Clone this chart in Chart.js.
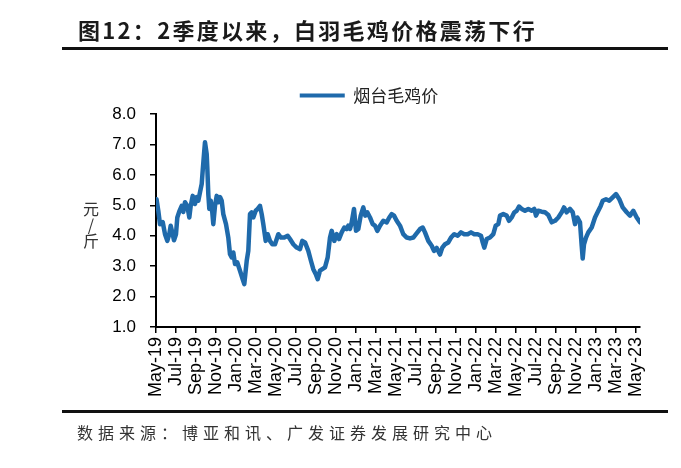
<!DOCTYPE html>
<html><head><meta charset="utf-8">
<script src="https://cdn.jsdelivr.net/npm/chart.js@4"></script>
<style>
html,body{margin:0;padding:0;background:#fff;}
#wrap{position:relative;width:681px;height:468px;overflow:hidden;background:#fff;}
#cw{position:absolute;left:0;top:0;width:681px;height:468px;}
.title{position:absolute;left:78px;top:13px;font-family:"Noto Sans CJK SC";font-weight:700;font-size:22px;letter-spacing:2.3px;color:#1a1a1a;line-height:32px;white-space:nowrap;}
.rule{position:absolute;left:62px;width:606px;height:3px;background:#111;}
.src{position:absolute;left:77px;top:420px;font-family:"Noto Sans CJK SC";font-size:16px;letter-spacing:5px;color:#333;line-height:24px;white-space:nowrap;}
.unit{position:absolute;left:82px;top:200px;width:18px;text-align:center;font-family:"Noto Sans CJK SC";font-size:16px;color:#333;line-height:16px;}
</style>
</head><body>
<div id="wrap">
  <div id="cw"><canvas id="c"></canvas></div>
  <div class="title">图12：2季度以来，白羽毛鸡价格震荡下行</div>
  <div class="rule" style="top:47px"></div>
  <div class="unit">元<br>/<br>斤</div>
  <div class="rule" style="top:410px"></div>
  <div class="src">数据来源：博亚和讯、广发证券发展研究中心</div>
</div>
<script>
// month offsets from May-2019
const months = [0.05,0.23,0.4,0.67,0.9,1.13,1.33,1.47,1.67,1.8,2.0,2.13,2.33,2.57,2.73,2.9,3.13,3.33,3.47,3.67,3.9,4.07,4.23,4.4,4.57,4.67,4.8,4.9,5.07,5.13,5.23,5.33,5.47,5.6,5.73,5.9,6.07,6.23,6.4,6.57,6.73,7.0,7.23,7.4,7.57,7.73,7.9,8.13,8.4,8.67,8.83,9.07,9.23,9.4,9.57,9.73,9.97,10.17,10.4,10.57,10.73,10.97,11.17,11.4,11.63,11.9,12.23,12.5,12.83,13.17,13.4,13.73,14.07,14.4,14.63,14.9,15.23,15.5,15.73,15.97,16.17,16.4,16.63,16.9,17.17,17.4,17.57,17.83,18.07,18.3,18.57,18.83,19.07,19.23,19.4,19.57,19.8,20.0,20.23,20.47,20.73,20.93,21.13,21.4,21.67,21.9,22.13,22.4,22.73,23.07,23.33,23.57,23.8,24.07,24.4,24.73,25.07,25.4,25.73,26.0,26.4,26.67,26.9,27.23,27.57,27.8,28.07,28.4,28.63,28.9,29.23,29.5,29.83,30.17,30.5,30.83,31.17,31.5,31.83,32.17,32.5,32.67,32.83,33.07,33.4,33.73,33.97,34.23,34.4,34.73,35.07,35.3,35.57,35.83,36.07,36.3,36.57,36.9,37.23,37.57,37.83,38.0,38.23,38.57,38.9,39.23,39.57,39.9,40.23,40.57,40.8,41.07,41.4,41.67,41.9,42.13,42.4,42.57,42.67,42.8,43.0,43.23,43.57,43.9,44.23,44.47,44.67,45.0,45.33,45.67,46.0,46.33,46.67,47.07,47.4,47.73,48.07,48.4];
const prices = [5.20,4.82,4.38,4.45,4.05,3.83,4.05,4.33,4.05,3.85,4.05,4.60,4.80,4.98,4.78,5.10,4.98,4.60,4.98,5.31,5.04,5.27,5.15,5.43,5.70,6.14,6.68,7.07,6.68,6.25,5.37,4.88,5.15,4.88,4.38,4.98,5.31,5.10,5.27,5.15,4.71,4.38,3.94,3.39,3.29,3.45,3.07,3.12,2.85,2.57,2.41,3.17,3.50,4.71,4.77,4.60,4.82,4.88,4.98,4.71,4.38,3.83,4.05,3.83,3.72,3.72,4.05,3.94,3.94,4.00,3.89,3.72,3.61,3.56,3.83,3.78,3.50,3.17,2.90,2.74,2.57,2.85,2.90,2.96,3.29,3.94,4.16,3.83,4.05,3.89,4.11,4.27,4.22,4.33,4.22,4.44,4.88,4.16,4.22,4.66,4.93,4.66,4.77,4.60,4.38,4.33,4.16,4.33,4.49,4.44,4.60,4.71,4.66,4.49,4.33,4.05,3.94,3.91,3.94,4.05,4.22,4.27,4.11,3.83,3.67,3.50,3.60,3.38,3.61,3.72,3.78,3.94,4.05,4.00,4.11,4.05,4.05,4.11,4.05,4.05,4.00,3.78,3.61,3.89,3.94,4.05,4.33,4.38,4.66,4.71,4.66,4.49,4.60,4.77,4.82,4.96,4.88,4.82,4.88,4.82,4.88,4.66,4.82,4.79,4.77,4.68,4.44,4.49,4.60,4.77,4.93,4.77,4.88,4.77,4.38,4.60,4.44,3.67,3.25,3.72,3.94,4.11,4.27,4.60,4.82,4.98,5.15,5.20,5.15,5.26,5.37,5.20,4.93,4.77,4.66,4.82,4.60,4.44];
const tickLabels = ['May-19','Jul-19','Sep-19','Nov-19','Jan-20','Mar-20','May-20','Jul-20','Sep-20','Nov-20','Jan-21','Mar-21','May-21','Jul-21','Sep-21','Nov-21','Jan-22','Mar-22','May-22','Jul-22','Sep-22','Nov-22','Jan-23','Mar-23','May-23'];
const seriesName = '烟台毛鸡价';
const yTicks = [1,2,3,4,5,6,7,8];

const lineColor = '#1f6aab';
const points = months.map((m, i) => ({x: m, y: prices[i]}));

new Chart(document.getElementById('c'), {
  type: 'line',
  data: { datasets: [{
    label: seriesName, data: points,
    borderColor: lineColor, backgroundColor: lineColor,
    borderWidth: 4.5, pointRadius: 0, tension: 0,
    borderJoinStyle: 'round', borderCapStyle: 'round'
  }]},
  options: {
    responsive: true, maintainAspectRatio: false, animation: false,
    layout: { padding: { left: 98, right: 41, top: 79, bottom: 0 } },
    plugins: {
      tooltip: { enabled: false },
      legend: {
        display: true, position: 'top',
        labels: {
          boxWidth: 45, boxHeight: 4, padding: 8, color: '#222',
          font: { family: '"Noto Sans CJK SC"', size: 17 },
          generateLabels: (chart) => Chart.defaults.plugins.legend.labels.generateLabels(chart).map(l => Object.assign(l, {lineWidth: 0}))
        }
      }
    },
    scales: {
      x: {
        type: 'linear', min: 0, max: 48.4,
        afterFit: (s) => { s.height = 141; },
        ticks: {
          stepSize: 2, includeBounds: false, autoSkip: false,
          minRotation: 90, maxRotation: 90, padding: 4, color: '#000',
          font: { family: '"Liberation Sans", Arial', size: 18 },
          callback: (v) => tickLabels[Math.round(v / 2)]
        },
        grid: { display: true, drawOnChartArea: false, drawTicks: true, tickLength: 6, color: '#000', lineWidth: 1.5 },
        border: { display: true, color: '#000', width: 2 }
      },
      y: {
        type: 'linear', min: 1, max: 8,
        afterFit: (s) => { s.width = 58; },
        afterBuildTicks: (s) => { s.ticks = yTicks.map(v => ({value: v})); },
        ticks: {
          stepSize: 1, padding: 14, color: '#000',
          font: { family: '"Liberation Sans", Arial', size: 17 },
          callback: (v) => Number(v).toFixed(1)
        },
        grid: { display: true, drawOnChartArea: false, drawTicks: true, tickLength: 6, color: '#000', lineWidth: 1.5 },
        border: { display: true, color: '#000', width: 2 }
      }
    }
  }
});
</script>
</body></html>
